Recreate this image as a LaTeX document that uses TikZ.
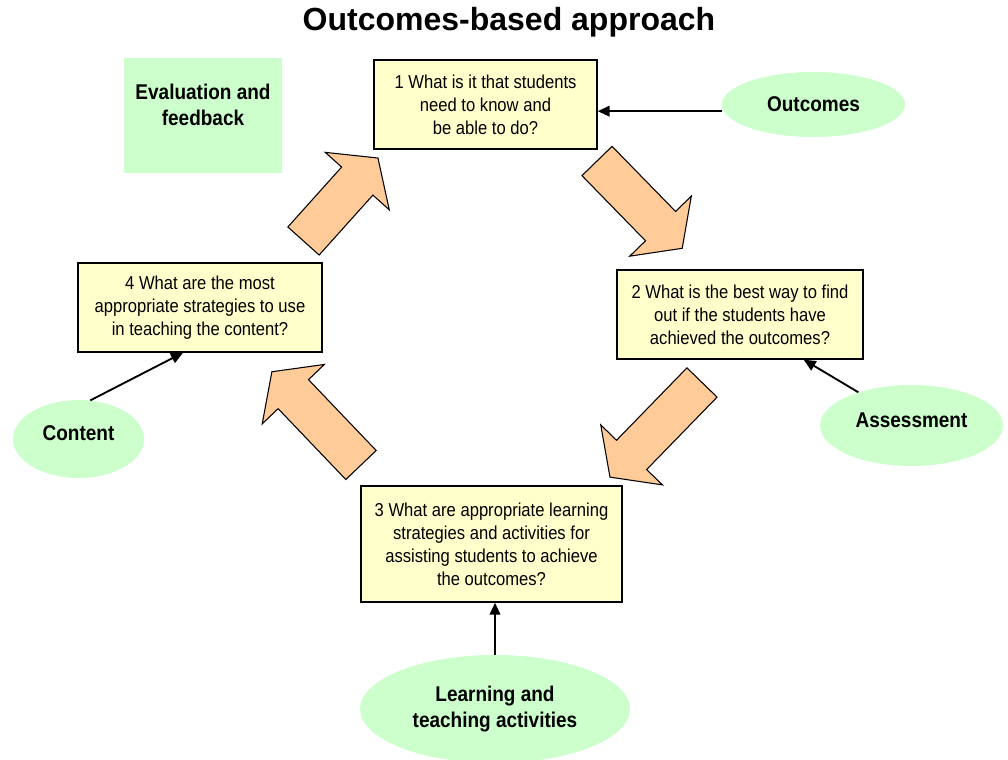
\documentclass[tikz,border=0pt]{standalone}
\usepackage{fontspec}
\setmainfont{Liberation Sans}
\newfontfamily\narrowsf[FakeStretch=0.89]{Liberation Sans}
\usetikzlibrary{shapes.geometric,arrows.meta}
\definecolor{peach}{HTML}{FFCC99}
\definecolor{paleyellow}{HTML}{FFFFCC}
\definecolor{palegreen}{HTML}{CCFFCC}
\tikzset{
question/.style={draw=black, line width=1.1pt, fill=paleyellow, align=center, inner sep=0pt, font=\narrowsf\fontsize{14}{17.25}\selectfont},
topic/.style={ellipse, fill=palegreen, inner sep=0pt, align=center, font=\narrowsf\bfseries\fontsize{16}{19.5}\selectfont},
link/.style={line width=1.4pt, -{Triangle[length=9pt,width=8pt]}},
fatarrow/.style={draw=black, line width=0.8pt, fill=peach, line join=miter}
}

\begin{document}
\begin{tikzpicture}[x=0.75pt,y=-0.75pt]
\useasboundingbox (0,0) rectangle (1008,760);
\node[font=\bfseries\fontsize{24}{28}\selectfont] (title) at (509,22) {Outcomes-based approach};

% evaluation panel
\fill[palegreen] (124,58) rectangle (282,173);
\node[font=\narrowsf\bfseries\fontsize{16}{20}\selectfont, align=center] (eval) at (203,105) {Evaluation and\\feedback};

% the four big arrows of the cycle
\foreach \x/\y/\a/\l in {597/161/-45.7/122, 702/382.5/-134.2/132, 361/465/133.7/129, 303.5/241/48.1/111.5} {
\draw[fatarrow, shift={(\x,\y)}, rotate=\a] (0,-21) -- (\l-31,-21) -- (\l-31,-43) -- (\l,0) -- (\l-31,43) -- (\l-31,21) -- (0,21) -- cycle;
}

\node[question, minimum width=167.25pt, minimum height=66.75pt] (q1) at (485.5,104.5) {1 What is it that students\\need to know and\\be able to do?};
\node[question, minimum width=184.5pt, minimum height=66.75pt] (q2) at (740,314.5) {2 What is the best way to find\\out if the students have\\achieved the outcomes?};
\node[question, minimum width=195.75pt, minimum height=87pt] (q3) at (491.5,544) {3 What are appropriate learning\\strategies and activities for\\assisting students to achieve\\the outcomes?};
\node[question, minimum width=183pt, minimum height=66.75pt] (q4) at (200,307.5) {4 What are the most\\appropriate strategies to use\\in teaching the content?};

\node[topic, minimum width=137.25pt, minimum height=48.75pt] (outcomes) at (813.5,104.5) {Outcomes};
\node[topic, minimum width=137.25pt, minimum height=60.75pt] (assess) at (911.5,425.5) {\raisebox{3.75pt}[\height][\depth]{Assessment}};
\node[topic, minimum width=202.5pt, minimum height=81pt] (learn) at (495,709) {Learning and\\teaching activities};
\node[topic, minimum width=98.25pt, minimum height=58.5pt] (content) at (78.5,439) {\raisebox{4.5pt}[\height][\depth]{Content}};

\coordinate (o1) at ([yshift=-5pt]outcomes.west);
\draw[link] (o1) -- (o1 -| q1.east);
\draw[link] (assess.148) -- ([xshift=-45pt]q2.south east);
\draw[link] (learn.north) -- (learn.north |- q3.south);
\draw[link] (content.73) -- ([xshift=-12.75pt]q4.south);

\end{tikzpicture}
\end{document}
